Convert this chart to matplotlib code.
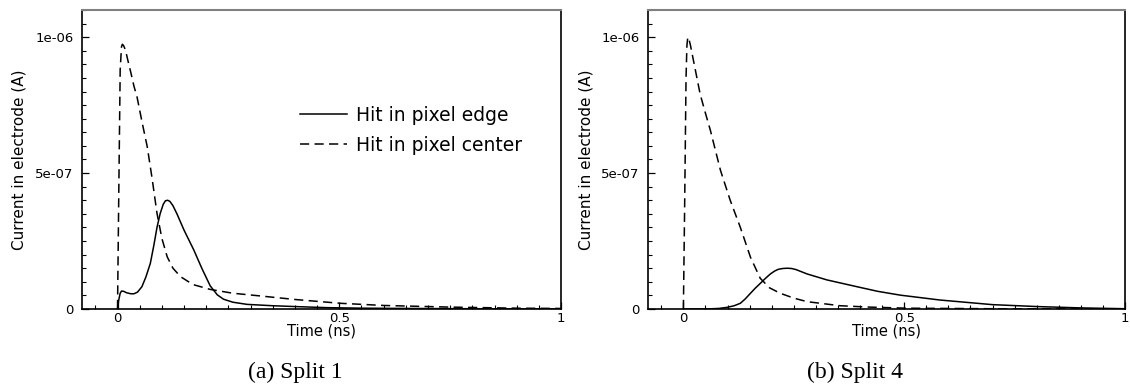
import numpy as np
import matplotlib
matplotlib.use("Agg")
import matplotlib.pyplot as plt
from matplotlib.ticker import MultipleLocator, FixedFormatter, FixedLocator

# ---- data (time in ns, current in 1e-6 A) ----
t_edge_1 = [0.0, 0.003, 0.006, 0.009, 0.014, 0.02, 0.03, 0.037, 0.045, 0.055, 0.064,
            0.074, 0.082, 0.089, 0.096, 0.103, 0.108, 0.113, 0.118, 0.125, 0.134, 0.15,
            0.172, 0.19, 0.209, 0.225, 0.239, 0.26, 0.292, 0.35, 0.40, 0.47, 0.55,
            0.65, 0.8, 1.0]
i_edge_1 = [0.0, 0.035, 0.058, 0.066, 0.065, 0.06, 0.056, 0.056, 0.062, 0.082, 0.118,
            0.168, 0.235, 0.30, 0.35, 0.385, 0.398, 0.40, 0.396, 0.38, 0.35, 0.29,
            0.217, 0.15, 0.085, 0.052, 0.036, 0.025, 0.017, 0.012, 0.009, 0.005, 0.003,
            0.002, 0.001, 0.0]
t_center_1 = [0.0, 0.003, 0.006, 0.009, 0.011, 0.014, 0.018, 0.024, 0.03, 0.037, 0.044,
              0.055, 0.067, 0.078, 0.089, 0.10, 0.112, 0.125, 0.142, 0.17, 0.209, 0.26,
              0.322, 0.40, 0.502, 0.6, 0.75, 0.9, 1.0]
i_center_1 = [0.0, 0.45, 0.88, 0.965, 0.974, 0.968, 0.952, 0.91, 0.87, 0.82, 0.78,
              0.69, 0.597, 0.48, 0.352, 0.26, 0.192, 0.15, 0.119, 0.09, 0.072, 0.058,
              0.048, 0.035, 0.021, 0.013, 0.007, 0.003, 0.002]

t_edge_4 = [0.0, 0.05, 0.08, 0.099, 0.115, 0.129, 0.14, 0.152, 0.163, 0.174, 0.186,
            0.197, 0.207, 0.215, 0.225, 0.235, 0.245, 0.255, 0.28, 0.325, 0.393, 0.44,
            0.491, 0.581, 0.7, 0.8, 0.9, 1.0]
i_edge_4 = [0.0, 0.0, 0.002, 0.006, 0.012, 0.021, 0.037, 0.058, 0.077, 0.094, 0.113,
            0.129, 0.14, 0.146, 0.149, 0.15, 0.149, 0.145, 0.129, 0.107, 0.082, 0.065,
            0.051, 0.033, 0.016, 0.009, 0.004, 0.001]
t_center_4 = [0.0, 0.003, 0.006, 0.008, 0.010, 0.013, 0.016, 0.027, 0.038, 0.05, 0.061,
              0.084, 0.106, 0.129, 0.152, 0.174, 0.195, 0.219, 0.25, 0.28, 0.355, 0.42,
              0.506, 0.7, 1.0]
i_center_4 = [0.0, 0.4, 0.85, 0.97, 1.0, 0.99, 0.97, 0.88, 0.79, 0.72, 0.658,
              0.51, 0.40, 0.30, 0.19, 0.113, 0.078, 0.058, 0.04, 0.027, 0.012, 0.007,
              0.003, 0.001, 0.0]

panels = [
    ("(a) Split 1", t_edge_1, i_edge_1, t_center_1, i_center_1, True),
    ("(b) Split 4", t_edge_4, i_edge_4, t_center_4, i_center_4, False),
]

fig = plt.figure(figsize=(11.3, 3.9), dpi=100)
positions = [[0.0726, 0.2077, 0.4239, 0.7667], [0.5735, 0.2077, 0.4221, 0.7667]]
caption_x = [295 / 1130, 855 / 1130]

for pos, cx, (caption, te, ie, tc, ic, show_legend) in zip(positions, caption_x, panels):
    ax = fig.add_axes(pos)
    ax.plot(te, np.array(ie) * 1e-6, color="black", lw=1.1, label="Hit in pixel edge")
    ax.plot(tc, np.array(ic) * 1e-6, color="black", lw=1.1, dashes=(6, 3.5),
            label="Hit in pixel center")
    ax.set_xlim(-0.08, 1.0)
    ax.set_ylim(0, 1.1e-6)
    ax.xaxis.set_major_locator(FixedLocator([0, 0.5, 1]))
    ax.xaxis.set_major_formatter(FixedFormatter(["0", "0.5", "1"]))
    ax.xaxis.set_minor_locator(MultipleLocator(0.05))
    ax.yaxis.set_major_locator(FixedLocator([0, 5e-7, 1e-6]))
    ax.yaxis.set_major_formatter(FixedFormatter(["0", "5e-07", "1e-06"]))
    ax.yaxis.set_minor_locator(MultipleLocator(5e-8))
    ax.tick_params(which="major", direction="in", length=5, width=0.9, labelsize=9.5)
    ax.tick_params(axis="y", which="major", pad=6)
    ax.tick_params(axis="x", which="major", pad=2)
    ax.tick_params(which="minor", direction="in", length=3, width=0.8)
    for side in ["left", "bottom", "right"]:
        ax.spines[side].set_color("black")
        ax.spines[side].set_linewidth(1.2)
    ax.spines["top"].set_color("#808080")
    ax.spines["top"].set_linewidth(1.5)
    ax.set_xlabel("Time (ns)", fontsize=10.5, labelpad=-1)
    ax.set_ylabel("Current in electrode (A)", fontsize=11, labelpad=6)
    if show_legend:
        ax.legend(loc="upper left", bbox_to_anchor=(0.44, 0.705), frameon=False,
                  fontsize=13.5, handlelength=2.5, handletextpad=0.45, labelspacing=0.6,
                  borderaxespad=0)
    fig.text(cx, 0.045, caption, ha="center", va="center", fontsize=17,
             family="Liberation Serif")

fig.savefig("out.png", dpi=100)
